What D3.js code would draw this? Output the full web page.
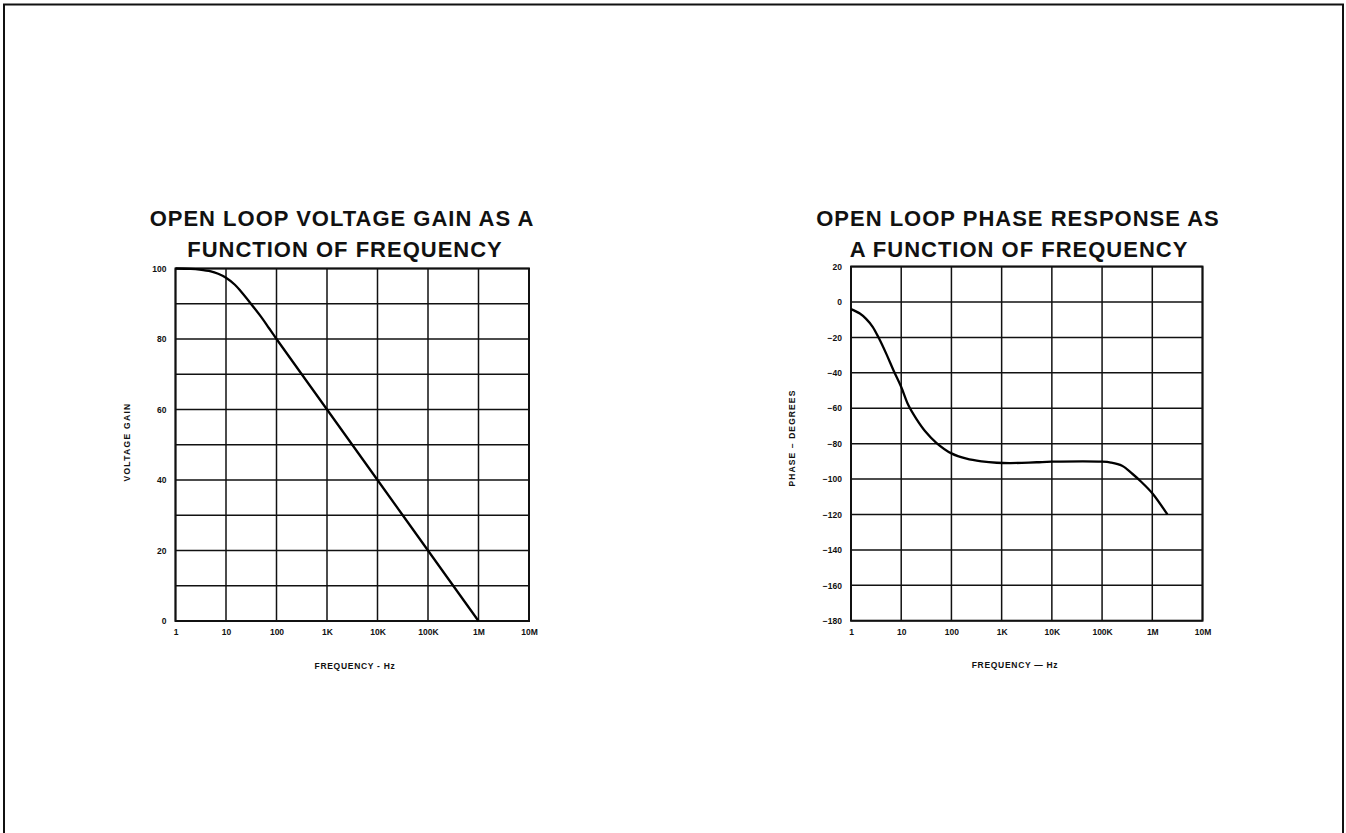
<!DOCTYPE html>
<html>
<head>
<meta charset="utf-8">
<script src="https://cdn.jsdelivr.net/npm/d3@7"></script>
<style>
  html, body { margin: 0; padding: 0; background: #fff; }
  svg { display: block; }
  text { font-family: "Liberation Sans", Arial, Helvetica, sans-serif; fill: #111; }
</style>
</head>
<body>
<svg id="chart" width="1346" height="833"></svg>
<script>
// ---------------- DATA ----------------
const freqTicks = [1, 10, 100, 1e3, 1e4, 1e5, 1e6, 1e7];
const freqTickLabels = ["1", "10", "100", "1K", "10K", "100K", "1M", "10M"];

// Left chart: open loop voltage gain
const gainTitle = ["OPEN LOOP VOLTAGE GAIN AS A", "FUNCTION OF FREQUENCY"];
const gainGrid = [0, 10, 20, 30, 40, 50, 60, 70, 80, 90, 100];
const gainTickValues = [0, 20, 40, 60, 80, 100];
const gainTickLabels = ["0", "20", "40", "60", "80", "100"];
const gainFreq = [1, 2, 3, 5, 7, 10, 15, 20, 30, 50, 70, 100, 1e3, 1e4, 1e5, 1e6];
const gainValue = [100, 99.9, 99.7, 99.2, 98.5, 97.4, 95.4, 93.4, 90.3, 86.2, 83.2, 80, 60, 40, 20, 0];
const gainXLabel = "FREQUENCY - Hz";
const gainYLabel = "VOLTAGE GAIN";

// Right chart: open loop phase response
const phaseTitle = ["OPEN LOOP PHASE RESPONSE AS", "A FUNCTION OF FREQUENCY"];
const phaseGrid = [20, 0, -20, -40, -60, -80, -100, -120, -140, -160, -180];
const phaseTickLabels = ["20", "0", "\u221220", "\u221240", "\u221260", "\u221280", "\u2212100", "\u2212120", "\u2212140", "\u2212160", "\u2212180"];
const phaseFreq = [1, 1.5, 2, 2.7, 3.6, 5, 7, 10, 14, 20, 30, 50, 100, 200, 400, 800, 1500, 5000, 1e4, 1e5, 1.5e5, 2.5e5, 4e5, 6e5, 1e6, 2e6];
const phaseValue = [-4, -6.5, -9.5, -14, -20.5, -29, -38.5, -48, -58.5, -66, -73, -79.5, -85.5, -88.5, -90, -90.8, -91, -90.5, -90.2, -90.2, -90.7, -92.5, -97, -101.5, -108, -120];
const phaseXLabel = "FREQUENCY \u2014 Hz";
const phaseYLabel = "PHASE \u2013 DEGREES";

// ---------------- DRAW ----------------
const svg = d3.select("#chart");

// page frame (open at the bottom)
svg.append("path")
  .attr("d", "M4,833 L4,4.5 L1343,4.5 L1343,833")
  .attr("fill", "none").attr("stroke", "#111").attr("stroke-width", 2);

function drawChart(cfg) {
  const g = svg.append("g");
  const x = d3.scaleLog().domain([1, 1e7]).range(cfg.xRange);
  const y = d3.scaleLinear().domain(cfg.yDomain).range(cfg.yRange);
  const [x0, x1] = cfg.xRange;
  const [yb, yt] = cfg.yRange;

  // titles
  cfg.title.forEach((t, i) => {
    g.append("text")
      .attr("x", cfg.titleX[i]).attr("y", cfg.titleY + i * 31)
      .attr("text-anchor", "middle")
      .attr("font-size", 22).attr("font-weight", "bold")
      .attr("letter-spacing", 1.0)
      .text(t);
  });

  // horizontal grid
  g.append("g").selectAll("line").data(cfg.grid).join("line")
    .attr("x1", x0).attr("x2", x1)
    .attr("y1", d => y(d)).attr("y2", d => y(d))
    .attr("stroke", "#111").attr("stroke-width", 1.5);

  // vertical grid
  g.append("g").selectAll("line").data(freqTicks).join("line")
    .attr("x1", d => x(d)).attr("x2", d => x(d))
    .attr("y1", yb).attr("y2", yt)
    .attr("stroke", "#111").attr("stroke-width", 1.5);

  // frame
  g.append("rect")
    .attr("x", x0).attr("y", yt).attr("width", x1 - x0).attr("height", yb - yt)
    .attr("fill", "none").attr("stroke", "#111").attr("stroke-width", 2);

  // x axis labels
  const xAxis = d3.axisBottom(x).tickValues(freqTicks)
    .tickFormat((d, i) => freqTickLabels[i]).tickSize(0).tickPadding(8);
  const xa = g.append("g").attr("transform", `translate(0,${yb})`).call(xAxis);
  xa.select(".domain").remove();
  xa.selectAll("text").attr("font-size", 8.5).attr("font-weight", "bold")
    .attr("font-family", "Liberation Sans, Arial, sans-serif").attr("fill", "#111");

  // y axis labels
  const yAxis = d3.axisLeft(y).tickValues(cfg.yTicks)
    .tickFormat((d, i) => cfg.yTickLabels[i]).tickSize(0).tickPadding(9);
  const ya = g.append("g").attr("transform", `translate(${x0},0)`).call(yAxis);
  ya.select(".domain").remove();
  ya.selectAll("text").attr("font-size", 8.5).attr("font-weight", "bold")
    .attr("font-family", "Liberation Sans, Arial, sans-serif").attr("fill", "#111");

  // axis titles
  g.append("text")
    .attr("x", cfg.xLabelX).attr("y", cfg.xLabelY)
    .attr("text-anchor", "middle").attr("font-size", 8.5).attr("font-weight", "bold")
    .attr("letter-spacing", 0.7)
    .text(cfg.xLabel);
  g.append("text")
    .attr("transform", `translate(${cfg.yLabelX},${cfg.yLabelY}) rotate(-90)`)
    .attr("text-anchor", "middle").attr("font-size", 8.5).attr("font-weight", "bold")
    .attr("letter-spacing", cfg.yLabelSpacing)
    .text(cfg.yLabel);

  // curve
  const pts = cfg.freq.map((f, i) => [f, cfg.values[i]]);
  const line = d3.line().x(d => x(d[0])).y(d => y(d[1])).curve(d3.curveCatmullRom.alpha(0.5));
  g.append("path").datum(pts)
    .attr("d", line)
    .attr("fill", "none").attr("stroke", "#000").attr("stroke-width", 2.3)
    .attr("stroke-linejoin", "round");
}

drawChart({
  title: gainTitle, titleX: [342, 345], titleY: 226,
  xRange: [175.5, 529], yDomain: [0, 100], yRange: [621, 268.5],
  grid: gainGrid, yTicks: gainTickValues, yTickLabels: gainTickLabels,
  freq: gainFreq, values: gainValue,
  xLabel: gainXLabel, xLabelX: 355, xLabelY: 669,
  yLabel: gainYLabel, yLabelX: 130, yLabelY: 442, yLabelSpacing: 1.3
});

drawChart({
  title: phaseTitle, titleX: [1018, 1019], titleY: 226,
  xRange: [851, 1202.5], yDomain: [-180, 20], yRange: [620.7, 266.6],
  grid: phaseGrid, yTicks: phaseGrid, yTickLabels: phaseTickLabels,
  freq: phaseFreq, values: phaseValue,
  xLabel: phaseXLabel, xLabelX: 1015, xLabelY: 668,
  yLabel: phaseYLabel, yLabelX: 795, yLabelY: 438, yLabelSpacing: 1.1
});
</script>
</body>
</html>
